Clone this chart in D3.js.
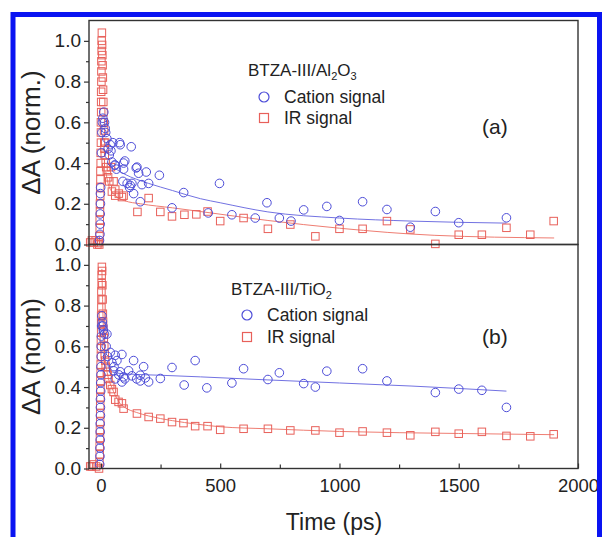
<!DOCTYPE html>
<html>
<head>
<meta charset="utf-8">
<script src="https://cdn.jsdelivr.net/npm/d3@7"></script>
<style>
  body { margin: 0; background: #fff; }
  svg { display: block; font-family: "Liberation Sans", Arial, sans-serif; }
</style>
</head>
<body>
<div id="wrapper"></div>
<script>
// values: time in ps, dA normalised
const timeTicks = [0, 500, 1000, 1500, 2000];
const timeMinor = [250, 750, 1250, 1750];
const dATicks = [0, 0.2, 0.4, 0.6, 0.8, 1.0];
const dAMinor = [0.1, 0.3, 0.5, 0.7, 0.9];

// (a) BTZA-III/Al2O3
const cationTopT = [-6, -4, -3, -3, -2, -2, -1, 2, 4, 6, 8, 12, 15, 18, 20, 25, 30, 35, 39, 42, 50, 46, 57, 60, 65, 78, 81, 92, 95, 95, 100, 110, 120, 123, 127, 130, 137, 148, 151, 158, 165, 172, 190, 200, 245, 298, 347, 450, 497, 549, 647, 696, 748, 797, 850, 947, 1000, 1097, 1199, 1297, 1402, 1500, 1700];
const cationTopV = [0.02, 0.05, 0.1, 0.15, 0.2, 0.25, 0.28, 0.45, 0.55, 0.6, 0.62, 0.65, 0.6, 0.57, 0.55, 0.52, 0.47, 0.44, 0.49, 0.46, 0.5, 0.405, 0.39, 0.39, 0.37, 0.5, 0.49, 0.31, 0.4, 0.37, 0.41, 0.3, 0.28, 0.29, 0.48, 0.3, 0.25, 0.376, 0.38, 0.35, 0.21, 0.294, 0.356, 0.3, 0.34, 0.18, 0.255, 0.155, 0.3, 0.146, 0.13, 0.205, 0.13, 0.115, 0.17, 0.187, 0.118, 0.21, 0.172, 0.085, 0.162, 0.107, 0.131];

const irTopT = [-45, -38, -30, -22, -15, -10, -7, -6, -5, -5, -4, -4, -3, -3, -2, -2, -1, -1, 0, 0, 0, 1, 1, 1, 2, 2, 2, 3, 3, 4, 5, 6, 7, 8, 9, 10, 11, 12, 13, 14, 15, 16, 18, 20, 22, 25, 30, 35, 42, 46, 53, 60, 60, 75, 88, 95, 153, 200, 249, 298, 350, 400, 447, 500, 598, 700, 794, 899, 1000, 1097, 1199, 1297, 1402, 1500, 1597, 1700, 1800, 1898];
const irTopV = [0.01, 0.02, 0.01, 0.02, 0.0, 0.01, 0.0, 0.04, 0.08, 0.12, 0.16, 0.2, 0.24, 0.28, 0.32, 0.36, 0.4, 0.45, 0.5, 0.55, 0.6, 0.65, 0.7, 0.75, 0.8, 0.85, 0.9, 0.95, 1.0, 1.04, 0.98, 0.93, 0.88, 0.82, 0.76, 0.7, 0.65, 0.6, 0.56, 0.5, 0.47, 0.44, 0.5, 0.4, 0.38, 0.36, 0.33, 0.31, 0.38, 0.26, 0.31, 0.24, 0.27, 0.25, 0.233, 0.24, 0.16, 0.228, 0.16, 0.138, 0.146, 0.148, 0.162, 0.115, 0.13, 0.077, 0.098, 0.04, 0.077, 0.077, 0.115, 0.074, 0.003, 0.048, 0.048, 0.082, 0.048, 0.115];

const cationTopFitT = [40, 60, 100, 150, 200, 300, 417, 500, 700, 1000, 1300, 1700];
const cationTopFitV = [0.40, 0.375, 0.345, 0.32, 0.30, 0.265, 0.225, 0.205, 0.16, 0.13, 0.115, 0.105];
const irTopFitT = [20, 30, 45, 60, 100, 165, 300, 417, 700, 1000, 1400, 1900];
const irTopFitV = [0.36, 0.30, 0.26, 0.24, 0.215, 0.20, 0.18, 0.162, 0.118, 0.08, 0.045, 0.032];

// (b) BTZA-III/TiO2
const cationBotT = [-5, -4, -4, -3, -3, -3, -2, -2, -2, -1, -1, 0, 0, 1, 1, 2, 3, 4, 6, 8, 10, 15, 22, 25, 28, 39, 46, 53, 55, 60, 60, 67, 75, 81, 88, 88, 95, 100, 116, 130, 137, 150, 165, 165, 179, 186, 200, 249, 298, 349, 395, 444, 549, 598, 700, 748, 850, 899, 947, 1097, 1199, 1402, 1500, 1597, 1700];
const cationBotV = [0.02, 0.06, 0.1, 0.14, 0.18, 0.22, 0.26, 0.3, 0.34, 0.38, 0.42, 0.46, 0.5, 0.55, 0.6, 0.65, 0.7, 0.75, 0.72, 0.7, 0.68, 0.66, 0.6, 0.66, 0.55, 0.57, 0.52, 0.48, 0.5, 0.556, 0.44, 0.53, 0.46, 0.475, 0.56, 0.425, 0.45, 0.44, 0.48, 0.455, 0.53, 0.44, 0.458, 0.43, 0.5, 0.445, 0.425, 0.442, 0.496, 0.41, 0.53, 0.396, 0.42, 0.49, 0.437, 0.47, 0.417, 0.4, 0.478, 0.49, 0.43, 0.373, 0.39, 0.384, 0.3];

const irBotT = [-45, -38, -30, -20, -8, -6, -5, -5, -4, -4, -3, -3, -3, -2, -2, -2, -1, -1, 0, 0, 0, 1, 1, 1, 2, 2, 2, 3, 3, 4, 5, 6, 7, 8, 9, 10, 12, 14, 16, 18, 20, 25, 28, 32, 39, 46, 53, 60, 74, 88, 95, 151, 200, 249, 298, 346, 395, 447, 500, 598, 700, 794, 899, 1000, 1097, 1199, 1297, 1402, 1500, 1597, 1700, 1800, 1898];
const irBotV = [0.01, 0.01, 0.02, 0.01, 0.0, 0.03, 0.07, 0.11, 0.15, 0.19, 0.23, 0.27, 0.31, 0.35, 0.39, 0.43, 0.47, 0.51, 0.55, 0.59, 0.63, 0.67, 0.71, 0.75, 0.79, 0.83, 0.87, 0.91, 0.95, 0.99, 0.97, 0.9, 0.83, 0.76, 0.72, 0.68, 0.64, 0.6, 0.56, 0.53, 0.5, 0.475, 0.46, 0.44, 0.41, 0.39, 0.376, 0.338, 0.327, 0.32, 0.294, 0.27, 0.253, 0.245, 0.228, 0.223, 0.208, 0.208, 0.19, 0.195, 0.195, 0.187, 0.187, 0.176, 0.182, 0.176, 0.163, 0.18, 0.171, 0.18, 0.16, 0.158, 0.168];

const cationBotFitT = [25, 40, 60, 100, 249, 417, 700, 1000, 1300, 1700];
const cationBotFitV = [0.52, 0.48, 0.47, 0.465, 0.458, 0.45, 0.435, 0.42, 0.405, 0.38];
const irBotFitT = [4, 6, 8, 10, 14, 20, 30, 45, 60, 80, 100, 150, 200, 300, 400, 500, 700, 1000, 1500, 1900];
const irBotFitV = [0.98, 0.88, 0.78, 0.7, 0.6, 0.52, 0.45, 0.4, 0.36, 0.32, 0.3, 0.275, 0.258, 0.235, 0.218, 0.205, 0.195, 0.182, 0.172, 0.166];

const panels = [
  { title: ["BTZA-III/Al", "2", "O", "3"], label: "(a)", yTitle: "\u0394A (norm.)",
    cationT: cationTopT, cationV: cationTopV, irT: irTopT, irV: irTopV,
    cFitT: cationTopFitT, cFitV: cationTopFitV, iFitT: irTopFitT, iFitV: irTopFitV,
    titleY: 76, cationY: 97, irY: 118, legendX: 264, labelY: 134 },
  { title: ["BTZA-III/TiO", "2"], label: "(b)", yTitle: "\u0394A (norm)",
    cationT: cationBotT, cationV: cationBotV, irT: irBotT, irV: irBotV,
    cFitT: cationBotFitT, cFitV: cationBotFitV, iFitT: irBotFitT, iFitV: irBotFitV,
    titleY: 295, cationY: 315, irY: 337, legendX: 247, labelY: 344 },
];

const zip = (ts, vs) => ts.map((t, i) => ({ t, v: vs[i] }));

let dimensions = {
  width: 602, height: 537,
  margin: { top: 20.5, right: 24, left: 89 },
  panelHeight: 224,
};
dimensions.boundedWidth = dimensions.width - dimensions.margin.left - dimensions.margin.right;

const blue = "#4d4dd8";
const red = "#e8605a";
const axisColor = "#333";

const svg = d3.select("#wrapper").append("svg")
  .attr("width", dimensions.width)
  .attr("height", dimensions.height);

const xScale = d3.scaleLinear()
  .domain([-50, 2000])
  .range([dimensions.margin.left, dimensions.margin.left + dimensions.boundedWidth]);

panels.forEach((p, i) => {
  const top = dimensions.margin.top + i * dimensions.panelHeight;
  const bottom = top + dimensions.panelHeight;
  const yScale = d3.scaleLinear().domain([0, 1.1]).range([bottom, top]);
  const g = svg.append("g");

  const line = d3.line()
    .x(d => xScale(d.t))
    .y(d => yScale(d.v))
    .curve(d3.curveMonotoneX);

  // fits
  g.append("path").attr("d", line(zip(p.iFitT, p.iFitV)))
    .attr("fill", "none").attr("stroke", "#ef7d72").attr("stroke-width", 1);
  g.append("path").attr("d", line(zip(p.cFitT, p.cFitV)))
    .attr("fill", "none").attr("stroke", "#7272e2").attr("stroke-width", 1);

  // IR squares
  const s = 7.5;
  g.append("g").selectAll("rect")
    .data(zip(p.irT, p.irV))
    .join("rect")
    .attr("x", d => xScale(d.t) - s / 2)
    .attr("y", d => yScale(d.v) - s / 2)
    .attr("width", s).attr("height", s)
    .attr("fill", "none").attr("stroke", red).attr("stroke-width", 1);

  // cation circles
  g.append("g").selectAll("circle")
    .data(zip(p.cationT, p.cationV))
    .join("circle")
    .attr("cx", d => xScale(d.t))
    .attr("cy", d => yScale(d.v))
    .attr("r", 4.3)
    .attr("fill", "none").attr("stroke", blue).attr("stroke-width", 1);

  // frame
  g.append("rect")
    .attr("x", xScale.range()[0]).attr("y", top)
    .attr("width", dimensions.boundedWidth).attr("height", dimensions.panelHeight)
    .attr("fill", "none").attr("stroke", axisColor).attr("stroke-width", 1.4);

  // y axis
  const yAxis = g.append("g")
    .attr("transform", `translate(${dimensions.margin.left},0)`)
    .call(d3.axisLeft(yScale).tickValues(dATicks).tickFormat(d3.format(".1f"))
      .tickSize(5).tickPadding(3));
  const yMinor = g.append("g")
    .attr("transform", `translate(${dimensions.margin.left},0)`)
    .call(d3.axisLeft(yScale).tickValues(dAMinor).tickFormat("").tickSize(3));
  [yAxis, yMinor].forEach(a => {
    a.select(".domain").remove();
    a.selectAll("line").attr("stroke", axisColor).attr("stroke-width", 1.2);
  });
  yAxis.selectAll("text").attr("font-size", 19).attr("fill", "#222")
    .attr("font-family", "Liberation Sans, Arial, sans-serif");

  // x axis only on the lower panel
  if (i === 1) {
    const xAxis = g.append("g")
      .attr("transform", `translate(0,${bottom})`)
      .call(d3.axisBottom(xScale).tickValues(timeTicks).tickFormat(d3.format("d"))
        .tickSizeInner(-5).tickSizeOuter(0).tickPadding(10));
    const xMinor = g.append("g")
      .attr("transform", `translate(0,${bottom})`)
      .call(d3.axisBottom(xScale).tickValues(timeMinor).tickSizeInner(-4)
        .tickSizeOuter(0).tickFormat(""));
    [xAxis, xMinor].forEach(a => {
      a.select(".domain").remove();
      a.selectAll("line").attr("stroke", axisColor).attr("stroke-width", 1.2);
    });
    xAxis.selectAll("text").attr("font-size", 18.5).attr("fill", "#222")
      .attr("font-family", "Liberation Sans, Arial, sans-serif");
  }

  // y title
  svg.append("text")
    .attr("transform", `translate(40,${(top + bottom) / 2}) rotate(-90)`)
    .attr("text-anchor", "middle")
    .attr("font-size", 26).attr("fill", "#222")
    .text(p.yTitle);

  // legend
  const title = g.append("text")
    .attr("x", p.legendX - 16).attr("y", p.titleY)
    .attr("font-size", 17).attr("fill", "#222");
  p.title.forEach((part, k) => {
    const isSub = k % 2 === 1;
    title.append("tspan")
      .attr("font-size", isSub ? 11 : 17)
      .attr("dy", isSub ? 4 : (k === 0 ? 0 : -4))
      .text(part);
  });

  g.append("circle").attr("cx", p.legendX).attr("cy", p.cationY).attr("r", 5)
    .attr("fill", "none").attr("stroke", blue).attr("stroke-width", 1.2);
  g.append("rect").attr("x", p.legendX - 4.5).attr("y", p.irY - 4.5)
    .attr("width", 9).attr("height", 9)
    .attr("fill", "none").attr("stroke", red).attr("stroke-width", 1.2);
  g.append("text").attr("x", p.legendX + 20).attr("y", p.cationY + 6)
    .attr("font-size", 17.5).attr("fill", "#222").text("Cation signal");
  g.append("text").attr("x", p.legendX + 20).attr("y", p.irY + 6)
    .attr("font-size", 17.5).attr("fill", "#222").text("IR signal");
  g.append("text").attr("x", 482).attr("y", p.labelY)
    .attr("font-size", 21).attr("fill", "#222").text(p.label);
});

// x title
svg.append("text")
  .attr("x", 334).attr("y", 530)
  .attr("text-anchor", "middle")
  .attr("font-size", 23).attr("fill", "#222")
  .text("Time (ps)");

// blue page border
svg.append("rect")
  .attr("x", 13).attr("y", 14.5)
  .attr("width", 586.5).attr("height", 600)
  .attr("fill", "none").attr("stroke", "#0a14f2").attr("stroke-width", 5);
</script>
</body>
</html>
